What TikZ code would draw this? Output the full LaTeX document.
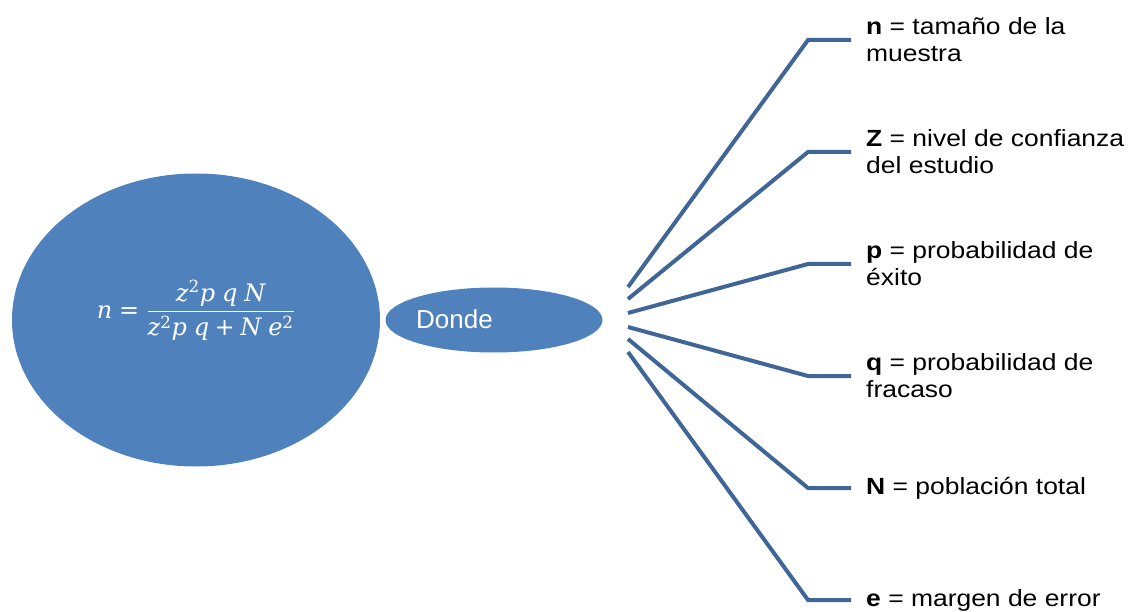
\documentclass[tikz,border=0pt]{standalone}
\usepackage{amsmath}
\usepackage{fontspec}
\usepackage{graphicx}
\usetikzlibrary{shapes.geometric}
\setmainfont{Liberation Sans}
\newfontfamily\labelfont{Liberation Sans}[FakeStretch=1.13]
\newfontfamily\eqfont{DejaVu Serif}
\newcommand\mv[1]{\text{\eqfont\itshape #1}}
\newcommand\mn[1]{\text{\eqfont #1}}
\definecolor{shapeblue}{RGB}{79,129,189}
\definecolor{linkblue}{RGB}{64,101,151}

\begin{document}
\begin{tikzpicture}[x=1pt,y=-1pt,
  blob/.style={ellipse, fill=shapeblue, draw=none, inner sep=0pt},
  link/.style={draw=linkblue, line width=4pt},
  term/.style={anchor=west, inner xsep=15pt, inner ysep=0pt, align=left,
    font=\labelfont\fontsize{23.4}{27}\selectfont, text=black}
]
\useasboundingbox (0,0) rectangle (1129,612);

% formula bubble
\node[blob, minimum width=368pt, minimum height=293pt] (formulablob) at (196,320) {};
\node[text=white, inner sep=0pt, font=\fontsize{20}{24}\selectfont] (formula) at (196,310)
  {\scalebox{1.2}{$\displaystyle \mv{n} \mathrel{\mn{=}}
    \frac{\mv{z}^{\mn{2}}\mv{p}\;\mv{q}\;\mv{N}}
         {\mv{z}^{\mn{2}}\mv{p}\;\mv{q} \mathbin{\mn{+}} \mv{N}\;\mv{e}^{\mn{2}}}$}};

% "Donde" bubble
\node[blob, minimum width=217pt, minimum height=65pt] (donde) at (494,320) {};
\node[anchor=base west, inner sep=0pt, text=white, font=\fontsize{26}{30}\selectfont]
  (dondetxt) at (416,328) {Donde};

% definitions of the symbols
\node[term] (t1) at (851,40)  {\textbf{n} = tamaño de la\\muestra};
\node[term] (t2) at (851,152) {\textbf{Z} = nivel de confianza\\del estudio};
\node[term] (t3) at (851,264) {\textbf{p} = probabilidad de\\éxito};
\node[term] (t4) at (851,376) {\textbf{q} = probabilidad de\\fracaso};
\node[term] (t5) at (851,488) {\textbf{N} = población total};
\node[term] (t6) at (851,600) {\textbf{e} = margen de error};

% fan of connectors
\foreach \i/\sy in {1/287,2/299,3/313,4/327,5/339,6/352} {
  \coordinate (s\i) at (628,\sy);
  \coordinate (k\i) at (t\i.west -| 808,0);
  \draw[link] (s\i) -- (k\i) -- (t\i.west);
}
\end{tikzpicture}
\end{document}
